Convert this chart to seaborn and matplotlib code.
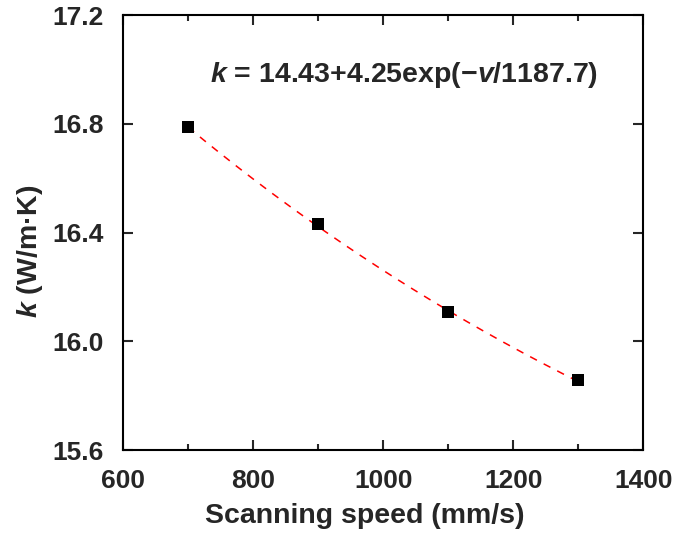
import numpy as np
import pandas as pd
import matplotlib
matplotlib.use("Agg")
import matplotlib.pyplot as plt
import seaborn as sns
from matplotlib.ticker import MultipleLocator

speed = [700, 900, 1100, 1300]
k_vals = [16.79, 16.43, 16.11, 15.86]
fit_a, fit_b, fit_t = 14.43, 4.25, 1187.7
x_ticks = [600, 800, 1000, 1200, 1400]
y_ticks = [15.6, 16.0, 16.4, 16.8, 17.2]

sns.set_theme(style="ticks")
plt.rcParams['font.family'] = ['Liberation Sans', 'DejaVu Sans']
plt.rcParams['font.weight'] = 'bold'
plt.rcParams['mathtext.fontset'] = 'custom'
plt.rcParams['mathtext.bfit'] = 'Liberation Sans:bold:italic'
plt.rcParams['mathtext.it'] = 'Liberation Sans:italic:bold'
plt.rcParams['mathtext.bf'] = 'Liberation Sans:bold'
plt.rcParams['mathtext.rm'] = 'Liberation Sans:bold'

fig = plt.figure(figsize=(6.88, 5.36), dpi=100)
ax = fig.add_axes([0.179, 0.160, 0.756, 0.812])

fx = np.linspace(speed[0], speed[-1], 200)
fy = fit_a + fit_b * np.exp(-fx / fit_t)
sns.lineplot(x=fx, y=fy, ax=ax, color='red', linestyle=(0, (5, 5)), linewidth=1.1)
df = pd.DataFrame({'speed': speed, 'k': k_vals})
sns.scatterplot(data=df, x='speed', y='k', ax=ax, marker='s', s=72, color='black',
                edgecolor='black', linewidth=0, zorder=3)

ax.set_xlim(600, 1400)
ax.set_ylim(15.6, 17.2)
ax.set_xticks(x_ticks)
ax.set_yticks(y_ticks)
ax.set_xticklabels([str(v) for v in x_ticks])
ax.set_yticklabels([f"{v:.1f}" for v in y_ticks])
ax.xaxis.set_minor_locator(MultipleLocator(100))
ax.tick_params(which='both', direction='in', top=True, right=True, width=1.5,
               labelsize=19)
ax.tick_params(axis='x', which='major', pad=13.5)
ax.tick_params(axis='y', which='major', pad=14)
ax.tick_params(which='major', length=7.5)
ax.tick_params(which='minor', length=4.5)
for lab in ax.get_xticklabels() + ax.get_yticklabels():
    lab.set_fontweight('bold')
for s in ax.spines.values():
    s.set_linewidth(1.5)
    s.set_color('black')

ax.set_xlabel('Scanning speed (mm/s)', fontsize=20.5, fontweight='bold', labelpad=10)
ax.xaxis.set_label_coords(0.465, -0.122, transform=ax.transAxes)
ax.xaxis.label.set_va('top')
ax.set_ylabel(r'$\mathbfit{k}$ (W/m·K)', fontsize=20.5, fontweight='bold', labelpad=5)
ax.yaxis.label.set_y(0.457)
ax.text(0.167, 0.862, r'$\mathbfit{k}$ = 14.43+4.25exp(−$\mathbfit{v}$/1187.7)',
        transform=ax.transAxes, fontsize=20.5, fontweight='bold', ha='left', va='center')

fig.savefig('out.png', dpi=100)
